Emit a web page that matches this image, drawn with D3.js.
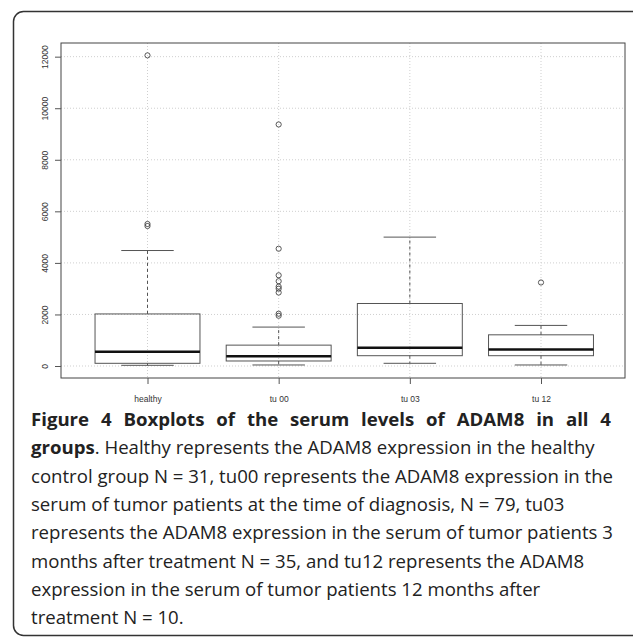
<!DOCTYPE html>
<html>
<head>
<meta charset="utf-8">
<script src="https://cdn.jsdelivr.net/npm/d3@7"></script>
<style>
  body { margin: 0; background: #fff; }
  svg { display: block; }
</style>
</head>
<body>
<script>
// values
const groups = ["healthy", "tu 00", "tu 03", "tu 12"]
const lowerWhisker = [27, 40, 105, 40]
const q1 = [105, 195, 400, 400]
const median = [555, 375, 705, 645]
const q3 = [2020, 810, 2425, 1210]
const upperWhisker = [4480, 1510, 5000, 1575]
const outliers = [
    [5430, 5510, 12050],
    [1950, 2030, 2850, 3000, 3080, 3290, 3520, 4550, 9370],
    [],
    [3240]
]
const yTicks = [0, 2000, 4000, 6000, 8000, 10000, 12000]

const captionBold = "Figure 4 Boxplots of the serum levels of ADAM8 in all 4"
const captionLines = [
    ["groups", ". Healthy represents the ADAM8 expression in the healthy"],
    ["", "control group N = 31, tu00 represents the ADAM8 expression in the"],
    ["", "serum of tumor patients at the time of diagnosis, N = 79, tu03"],
    ["", "represents the ADAM8 expression in the serum of tumor patients 3"],
    ["", "months after treatment N = 35, and tu12 represents the ADAM8"],
    ["", "expression in the serum of tumor patients 12 months after"],
    ["", "treatment N = 10."]
]

const W = 633, H = 639
const plot = { left: 61, right: 625, top: 43, bottom: 378 }
const boxwex = 0.8

var svg = d3.select("body").append("svg").attr("width", W).attr("height", H)

// outer frame
svg.append("rect")
    .attr("x", 13.5).attr("y", 11.5)
    .attr("width", 640).attr("height", 624)
    .attr("rx", 10)
    .attr("fill", "none").attr("stroke", "#333").attr("stroke-width", 1.5)

var x = d3.scaleLinear().domain([1, 4]).range([147.5, 541])
var y = d3.scaleLinear().domain([-465, 12530]).range([plot.bottom, plot.top])
const unit = x(2) - x(1)

var g = svg.append("g")

// dotted grid
g.selectAll("line.hgrid")
    .data(yTicks)
    .enter()
    .append("line")
    .attr("class", "hgrid")
    .attr("x1", plot.left).attr("x2", plot.right)
    .attr("y1", d => y(d)).attr("y2", d => y(d))
    .attr("stroke", "#cfcfcf").attr("stroke-dasharray", "1,2")

g.selectAll("line.vgrid")
    .data(groups)
    .enter()
    .append("line")
    .attr("class", "vgrid")
    .attr("x1", (d, i) => x(i + 1)).attr("x2", (d, i) => x(i + 1))
    .attr("y1", plot.top).attr("y2", plot.bottom)
    .attr("stroke", "#cfcfcf").attr("stroke-dasharray", "1,2")

// boxes
const stroke = "#555"
groups.forEach((name, i) => {
    let cx = x(i + 1)
    let half = unit * boxwex / 2
    let cap = half / 2
    let bg = g.append("g")

    // whiskers
    bg.append("line")
        .attr("x1", cx).attr("x2", cx)
        .attr("y1", y(q3[i])).attr("y2", y(upperWhisker[i]))
        .attr("stroke", stroke).attr("stroke-dasharray", "3,3")
    bg.append("line")
        .attr("x1", cx).attr("x2", cx)
        .attr("y1", y(q1[i])).attr("y2", y(lowerWhisker[i]))
        .attr("stroke", stroke).attr("stroke-dasharray", "3,3")

    // staples
    bg.selectAll("line.cap")
        .data([upperWhisker[i], lowerWhisker[i]])
        .enter()
        .append("line")
        .attr("x1", cx - cap).attr("x2", cx + cap)
        .attr("y1", d => y(d)).attr("y2", d => y(d))
        .attr("stroke", stroke)

    bg.append("rect")
        .attr("x", cx - half).attr("width", half * 2)
        .attr("y", y(q3[i])).attr("height", y(q1[i]) - y(q3[i]))
        .attr("fill", "none").attr("stroke", stroke)

    bg.append("line")
        .attr("x1", cx - half).attr("x2", cx + half)
        .attr("y1", y(median[i])).attr("y2", y(median[i]))
        .attr("stroke", "#111").attr("stroke-width", 2.5)

    bg.selectAll("circle")
        .data(outliers[i])
        .enter()
        .append("circle")
        .attr("cx", cx)
        .attr("cy", d => y(d))
        .attr("r", 2.6)
        .attr("fill", "none").attr("stroke", "#444").attr("stroke-width", 0.9)
})

// plot frame
g.append("rect")
    .attr("x", plot.left).attr("y", plot.top)
    .attr("width", plot.right - plot.left).attr("height", plot.bottom - plot.top)
    .attr("fill", "none").attr("stroke", "#444").attr("stroke-width", 1)

// y axis
var yAxis = d3.axisLeft(y).tickValues(yTicks).tickFormat(d3.format("d")).tickSize(6)
var ya = svg.append("g")
    .attr("transform", `translate(${plot.left},0)`)
    .call(yAxis)
ya.select(".domain").remove()
ya.selectAll(".tick line").attr("stroke", "#555")
ya.selectAll(".tick text")
    .attr("transform", "rotate(-90)")
    .attr("x", 0).attr("dy", 0)
    .attr("y", -13)
    .attr("text-anchor", "middle")
    .style("font-family", "'Liberation Sans', Arial, sans-serif")
    .style("font-size", "8.5px")
    .attr("fill", "#333")

// x axis
var xAxis = d3.axisBottom(x).tickValues([1, 2, 3, 4])
    .tickFormat(d => groups[d - 1]).tickSize(6).tickPadding(12)
var xa = svg.append("g")
    .attr("transform", `translate(0,${plot.bottom})`)
    .call(xAxis)
xa.select(".domain").remove()
xa.selectAll(".tick line").attr("stroke", "#555")
xa.selectAll(".tick text")
    .style("font-family", "'Liberation Sans', Arial, sans-serif")
    .style("font-size", "8.5px")
    .attr("fill", "#333")

// caption
const capFont = "'Open Sans', 'Noto Sans', sans-serif"
const lineH = 28.3
let cap = svg.append("g").style("font-family", capFont).style("font-size", "18.6px").attr("fill", "#222")

// first line is justified: spread the gap over the word spaces
let first = cap.append("text")
    .attr("x", 31).attr("y", 426)
    .style("font-weight", "bold")
    .text(captionBold)
let natural = first.node().getComputedTextLength()
let spaces = captionBold.split(" ").length - 1
first.style("word-spacing", ((580 - natural) / spaces) + "px")

captionLines.forEach((ln, i) => {
    let t = cap.append("text").attr("x", 31).attr("y", 426 + lineH * (i + 1))
    if (ln[0]) t.append("tspan").style("font-weight", "bold").text(ln[0])
    t.append("tspan").text(ln[1])
})
</script>
</body>
</html>
